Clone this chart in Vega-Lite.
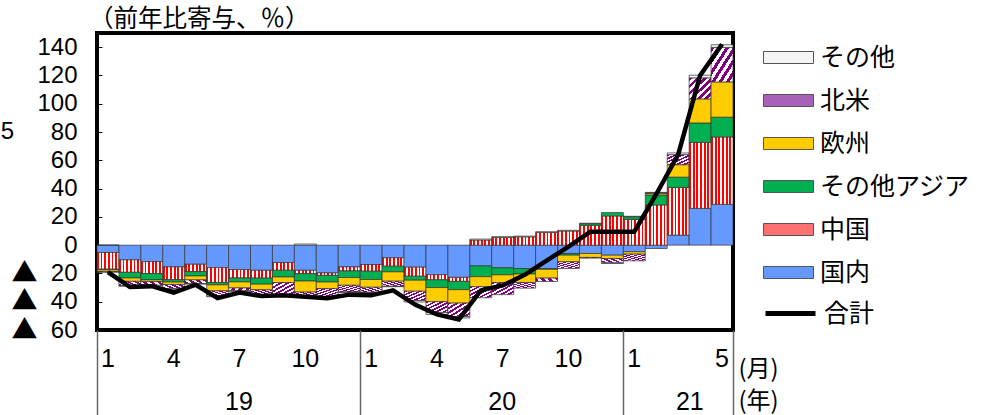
{
  "$schema": "https://vega.github.io/schema/vega-lite/v6.json",
  "width": 636,
  "height": 297,
  "autosize": {"type": "none"},
  "padding": {"left": 97, "top": 33, "right": 263, "bottom": 85},
  "background": "white",
  "config": {
    "view": {"stroke": "#000000", "strokeWidth": 4},
    "font": "Noto Sans CJK JP",
    "axis": {"labelColor": "#000000", "titleColor": "#000000", "titleFontWeight": "normal"},
    "legend": {"labelColor": "#000000", "symbolStrokeColor": "#555555", "symbolStrokeWidth": 1}
  },
  "title": {
    "text": "（前年比寄与、％）",
    "anchor": "start",
    "frame": "group",
    "font": "Noto Sans CJK JP",
    "fontSize": 24.5,
    "fontWeight": "normal",
    "color": "#000000",
    "offset": 0,
    "dx": -8
  },
  "datasets": {
    "order": [
      {"s": "国内", "k": 1},
      {"s": "中国", "k": 2},
      {"s": "その他アジア", "k": 3},
      {"s": "欧州", "k": 4},
      {"s": "北米", "k": 5},
      {"s": "その他", "k": 6}
    ],
    "main": [
      {"m": "2019-01", "国内": -5.2, "中国": -11.8, "その他アジア": -0.5, "欧州": -1.2, "北米": -0.5, "その他": 0, "合計": -19},
      {"m": "2019-02", "国内": -10.4, "中国": -8.8, "その他アジア": -4.0, "欧州": -2.4, "北米": -3.0, "その他": -0.5, "合計": -29.5},
      {"m": "2019-03", "国内": -11.6, "中国": -8.5, "その他アジア": -4.5, "欧州": -1.2, "北米": -2.6, "その他": -0.5, "合計": -29},
      {"m": "2019-04", "国内": -15.4, "中国": -9.0, "その他アジア": -1.7, "欧州": -1.7, "北米": -3.0, "その他": -0.5, "合計": -33.5},
      {"m": "2019-05", "国内": -13.5, "中国": -5.2, "その他アジア": -3.1, "欧州": -2.8, "北米": -2.6, "その他": -0.3, "合計": -28},
      {"m": "2019-06", "国内": -15.9, "中国": -10.5, "その他アジア": -1.7, "欧州": -4.3, "北米": -3.6, "その他": -0.5, "合計": -37.5},
      {"m": "2019-07", "国内": -17.3, "中国": -5.9, "その他アジア": -2.8, "欧州": -4.3, "北米": -1.9, "その他": -0.5, "合計": -33.5},
      {"m": "2019-08", "国内": -17.8, "中国": -5.5, "その他アジア": -4.3, "欧州": -4.0, "北米": -3.6, "その他": -0.3, "合計": -36},
      {"m": "2019-09", "国内": -12.3, "中国": -5.5, "その他アジア": -4.7, "欧州": -4.0, "北米": -8.5, "その他": -0.3, "合計": -35.5},
      {"m": "2019-10", "国内": -17.8, "中国": -2.4, "その他アジア": -5.2, "欧州": -7.8, "北米": -3.6, "その他": 0.8, "合計": -36.5},
      {"m": "2019-11", "国内": -19.7, "中国": -1.7, "その他アジア": -4.7, "欧州": -4.7, "北米": -5.5, "その他": -0.3, "合計": -37.5},
      {"m": "2019-12", "国内": -15.4, "中国": -2.8, "その他アジア": -4.7, "欧州": -5.5, "北米": -4.7, "その他": -0.3, "合計": -35},
      {"m": "2020-01", "国内": -13.7, "中国": -4.7, "その他アジア": -5.9, "欧州": -5.5, "北米": -3.5, "その他": -0.3, "合計": -35.5},
      {"m": "2020-02", "国内": -9.0, "中国": -5.9, "その他アジア": -4.0, "欧州": -6.6, "北米": -3.6, "その他": -0.3, "合計": -32},
      {"m": "2020-03", "国内": -15.6, "中国": -6.4, "その他アジア": -2.8, "欧州": -7.8, "北米": -6.6, "その他": -1.0, "合計": -42},
      {"m": "2020-04", "国内": -20.9, "中国": -3.6, "その他アジア": -5.5, "欧州": -10.0, "北米": -7.6, "その他": -1.4, "合計": -49},
      {"m": "2020-05", "国内": -22.8, "中国": -2.8, "その他アジア": -5.9, "欧州": -9.5, "北米": -9.5, "その他": -1.0, "合計": -52.5},
      {"m": "2020-06", "国内": -14.7, "中国": 3.6, "その他アジア": -7.6, "欧州": -7.1, "北米": -7.8, "その他": 0.7, "合計": -32},
      {"m": "2020-07", "国内": -16.0, "中国": 5.5, "その他アジア": -5.0, "欧州": -5.5, "北米": -8.5, "その他": 0.5, "合計": -28.5},
      {"m": "2020-08", "国内": -16.6, "中国": 5.9, "その他アジア": -3.8, "欧州": -6.0, "北米": -4.0, "その他": 0.5, "合計": -21},
      {"m": "2020-09", "国内": -16.6, "中国": 9.0, "その他アジア": -0.5, "欧州": -6.2, "北米": -2.4, "その他": 0.5, "合計": -11},
      {"m": "2020-10", "国内": -5.9, "中国": 10.0, "その他アジア": -1.2, "欧州": -4.7, "北米": -4.7, "その他": 0.5, "合計": -1},
      {"m": "2020-11", "国内": -5.9, "中国": 14.0, "その他アジア": 1.2, "欧州": -2.8, "北米": -0.5, "その他": 0.3, "合計": 9.5},
      {"m": "2020-12", "国内": -7.1, "中国": 20.6, "その他アジア": 2.4, "欧州": -2.4, "北米": -3.0, "その他": -0.5, "合計": 9.5},
      {"m": "2021-01", "国内": -4.7, "中国": 18.2, "その他アジア": 1.9, "欧州": -1.7, "北米": -4.7, "その他": 0.3, "合計": 9.5},
      {"m": "2021-02", "国内": -2.4, "中国": 28.4, "その他アジア": 7.1, "欧州": 1.2, "北米": 0.3, "その他": 0.3, "合計": 36},
      {"m": "2021-03", "国内": 7.1, "中国": 33.7, "その他アジア": 7.3, "欧州": 8.8, "北米": 7.1, "その他": 1.2, "合計": 64},
      {"m": "2021-04", "国内": 26.0, "中国": 46.7, "その他アジア": 13.7, "欧州": 17.0, "北米": 14.9, "その他": 1.9, "合計": 120},
      {"m": "2021-05", "国内": 28.9, "中国": 47.6, "その他アジア": 14.0, "欧州": 24.9, "北米": 24.4, "その他": 1.9, "合計": 142}
    ]
  },
  "data": {"name": "main"},
  "resolve": {"axis": {"x": "independent", "y": "independent"}},
  "layer": [
    {
      "transform": [
        {"fold": ["国内", "中国", "その他アジア", "欧州", "北米", "その他"], "as": ["s", "v"]},
        {"lookup": "s", "from": {"data": {"name": "order"}, "key": "s", "fields": ["k"]}}
      ],
      "mark": {"type": "bar", "stroke": "#333333", "strokeWidth": 0.7},
      "encoding": {
        "x": {
          "field": "m",
          "type": "ordinal",
          "scale": {"paddingInner": 0, "paddingOuter": 0},
          "axis": {
            "orient": "bottom",
            "title": "(月)",
            "titleX": 661,
            "titleY": 39,
            "titleAngle": 0,
            "titleAlign": "center",
            "titleBaseline": "middle",
            "titleFont": "Noto Sans CJK JP",
            "titleFontSize": 24,
            "ticks": false,
            "domain": false,
            "labelAngle": 0,
            "labelOverlap": false,
            "labelExpr": "((datum.value < '2021' && indexof(['01','04','07','10'], substring(datum.value,5,7)) >= 0) || datum.value == '2021-01' || datum.value == '2021-05') ? '' + toNumber(substring(datum.value,5,7)) : ''",
            "labelFont": "Liberation Sans",
            "labelFontSize": 25,
            "labelPadding": 16,
            "labelBaseline": "top"
          }
        },
        "y": {
          "field": "v",
          "type": "quantitative",
          "stack": "zero",
          "scale": {"domain": [-60, 150], "nice": false},
          "axis": {
            "orient": "left",
            "values": [-60, -40, -20, 0, 20, 40, 60, 80, 100, 120, 140],
            "title": null,
            "grid": false,
            "domain": false,
            "tickSize": -5,
            "tickColor": "#000000",
            "tickWidth": 1,
            "labelExpr": "'' + abs(datum.value)",
            "labelFont": "Liberation Sans",
            "labelFontSize": 24,
            "labelPadding": 25
          }
        },
        "fill": {
          "condition": [
            {"test": "datum.s == '北米'", "value": {"gradient": "linear", "x1": 0, "y1": 0, "x2": 1, "y2": 1, "stops": [
                {"offset": 0, "color": "#800080"}, {"offset": 0.0833, "color": "#800080"}, {"offset": 0.0833, "color": "#FFFFFF"}, {"offset": 0.1667, "color": "#FFFFFF"},
                {"offset": 0.1667, "color": "#800080"}, {"offset": 0.25, "color": "#800080"}, {"offset": 0.25, "color": "#FFFFFF"}, {"offset": 0.3333, "color": "#FFFFFF"},
                {"offset": 0.3333, "color": "#800080"}, {"offset": 0.4167, "color": "#800080"}, {"offset": 0.4167, "color": "#FFFFFF"}, {"offset": 0.5, "color": "#FFFFFF"},
                {"offset": 0.5, "color": "#800080"}, {"offset": 0.5833, "color": "#800080"}, {"offset": 0.5833, "color": "#FFFFFF"}, {"offset": 0.6667, "color": "#FFFFFF"},
                {"offset": 0.6667, "color": "#800080"}, {"offset": 0.75, "color": "#800080"}, {"offset": 0.75, "color": "#FFFFFF"}, {"offset": 0.8333, "color": "#FFFFFF"},
                {"offset": 0.8333, "color": "#800080"}, {"offset": 0.9167, "color": "#800080"}, {"offset": 0.9167, "color": "#FFFFFF"}, {"offset": 1, "color": "#FFFFFF"}
              ]}},
            {"test": "datum.s == '中国'", "value": {"gradient": "linear", "x1": 0, "y1": 0, "x2": 1, "y2": 0, "stops": [
                {"offset": 0, "color": "#FF0000"}, {"offset": 0.0833, "color": "#FF0000"}, {"offset": 0.0833, "color": "#FFFFFF"}, {"offset": 0.1667, "color": "#FFFFFF"},
                {"offset": 0.1667, "color": "#FF0000"}, {"offset": 0.25, "color": "#FF0000"}, {"offset": 0.25, "color": "#FFFFFF"}, {"offset": 0.3333, "color": "#FFFFFF"},
                {"offset": 0.3333, "color": "#FF0000"}, {"offset": 0.4167, "color": "#FF0000"}, {"offset": 0.4167, "color": "#FFFFFF"}, {"offset": 0.5, "color": "#FFFFFF"},
                {"offset": 0.5, "color": "#FF0000"}, {"offset": 0.5833, "color": "#FF0000"}, {"offset": 0.5833, "color": "#FFFFFF"}, {"offset": 0.6667, "color": "#FFFFFF"},
                {"offset": 0.6667, "color": "#FF0000"}, {"offset": 0.75, "color": "#FF0000"}, {"offset": 0.75, "color": "#FFFFFF"}, {"offset": 0.8333, "color": "#FFFFFF"},
                {"offset": 0.8333, "color": "#FF0000"}, {"offset": 0.9167, "color": "#FF0000"}, {"offset": 0.9167, "color": "#FFFFFF"}, {"offset": 1, "color": "#FFFFFF"}
              ]}}
          ],
          "field": "s",
          "type": "nominal",
          "scale": {
            "domain": ["その他", "北米", "欧州", "その他アジア", "中国", "国内"],
            "range": ["#F4F4F4", "#A860B8", "#FFCC00", "#00B050", "#FF7070", "#6699FF"]
          },
          "legend": {
            "orient": "none",
            "legendX": 666,
            "legendY": -1,
            "title": null,
            "padding": 0,
            "symbolType": "M-1,-0.24H1V0.24H-1Z",
            "symbolSize": 2500,
            "symbolStrokeColor": "#555555",
            "symbolStrokeWidth": 1,
            "symbolOpacity": 1,
            "labelFont": "Noto Sans CJK JP",
            "labelFontSize": 25,
            "labelOffset": 6,
            "rowPadding": 4
          }
        },
        "order": {"field": "k", "type": "quantitative"}
      }
    },
    {
      "transform": [{"fold": ["合計"], "as": ["s", "v"]}],
      "mark": {"type": "line", "strokeWidth": 4.5},
      "encoding": {
        "x": {
          "field": "m",
          "type": "ordinal",
          "axis": {
            "orient": "bottom",
            "values": ["2019-01", "2020-01", "2021-01"],
            "bandPosition": 0,
            "tickSize": 85,
            "tickColor": "#666666",
            "tickWidth": 1.5,
            "domain": false,
            "labelAngle": 0,
            "labelExpr": "substring(datum.value,2,4)",
            "labelOffset": {"condition": {"test": "datum.value == '2021-01'", "value": 55.5}, "value": 131},
            "labelPadding": -26,
            "labelFont": "Liberation Sans",
            "labelFontSize": 25,
            "labelBaseline": "top",
            "title": "(年)",
            "titleX": 661,
            "titleY": 71,
            "titleAngle": 0,
            "titleAlign": "center",
            "titleBaseline": "middle",
            "titleFont": "Noto Sans CJK JP",
            "titleFontSize": 24
          }
        },
        "y": {
          "field": "v",
          "type": "quantitative",
          "axis": {
            "orient": "left",
            "values": [-60, -40, -20],
            "title": "5",
            "titleAngle": 0,
            "titleX": -90,
            "titleY": 98,
            "titleAlign": "center",
            "titleBaseline": "middle",
            "titleFont": "Liberation Sans",
            "titleFontSize": 24,
            "grid": false,
            "domain": false,
            "ticks": false,
            "labelExpr": "'▲'",
            "labelFont": "Noto Sans CJK JP",
            "labelFontSize": 26,
            "labelPadding": 60
          }
        },
        "stroke": {
          "field": "s",
          "type": "nominal",
          "scale": {"range": ["#000000"]},
          "legend": {
            "orient": "none",
            "legendX": 666,
            "legendY": 253,
            "title": null,
            "padding": 0,
            "symbolType": "stroke",
            "symbolSize": 2500,
            "symbolStrokeWidth": 5,
            "labelFont": "Noto Sans CJK JP",
            "labelFontSize": 25,
            "labelOffset": 6
          }
        }
      }
    },
    {
      "mark": {"type": "rule", "strokeOpacity": 0},
      "encoding": {
        "x": {
          "field": "m",
          "type": "ordinal",
          "axis": {
            "orient": "bottom",
            "values": ["2021-05"],
            "bandPosition": 1,
            "tickSize": 85,
            "tickColor": "#666666",
            "tickWidth": 1.5,
            "domain": false,
            "labels": false,
            "title": null
          }
        }
      }
    }
  ]
}
